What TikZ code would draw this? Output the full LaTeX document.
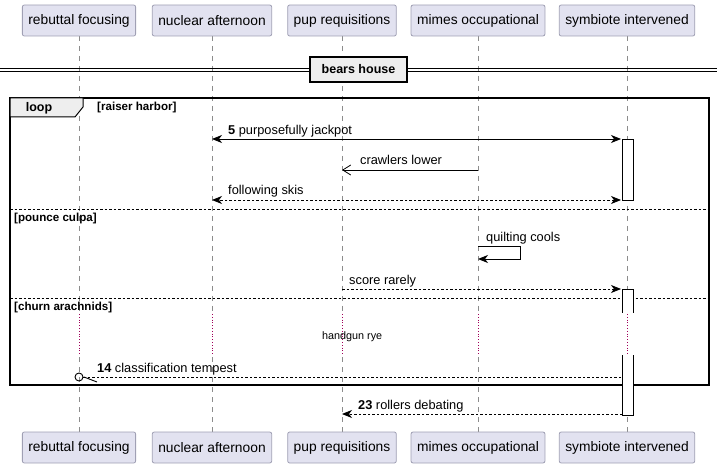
\documentclass[tikz,border=0pt]{standalone}
\usepackage{fontspec}
\setmainfont{Liberation Sans}
\usetikzlibrary{arrows.meta}
\definecolor{partfill}{HTML}{E2E2F0}
\definecolor{partdraw}{HTML}{A0A0B4}
\definecolor{lifegray}{HTML}{8C8C8C}
\definecolor{delayred}{HTML}{A0005A}
\definecolor{tabfill}{HTML}{EEEEEE}
\tikzset{
  part/.style={draw=partdraw, fill=partfill, rounded corners=2pt, minimum height=31pt, inner xsep=6pt, font=\fontsize{13.8}{15}\selectfont, line width=0.8pt},
  lifeline/.style={draw=lifegray, dash pattern=on 5pt off 5pt, line width=0.7pt},
  delayline/.style={draw=delayred, dotted, line width=0.8pt},
  msg/.style={line width=0.9pt, -{Stealth[length=10pt,width=8pt,inset=3pt]}},
  bimsg/.style={line width=0.9pt, {Stealth[length=10pt,width=8pt,inset=3pt]}-{Stealth[length=10pt,width=8pt,inset=3pt]}},
  openmsg/.style={line width=0.9pt, -{Straight Barb[length=8pt,width=10pt,line width=0.8pt]}},
  dsh/.style={dash pattern=on 2.5pt off 2pt},
  lbl/.style={anchor=base west, inner sep=0pt, font=\fontsize{12.8}{14}\selectfont},
  blbl/.style={anchor=base west, inner sep=0pt, font=\bfseries\fontsize{11.6}{13}\selectfont},
  actbox/.style={draw, fill=white, line width=0.9pt},
}
\begin{document}
\begin{tikzpicture}[x=1pt,y=-1pt]
\useasboundingbox (0,0) rectangle (724,468);
% lifelines x
\def\xa{79}\def\xb{212}\def\xc{342}\def\xd{478}\def\xe{627}
% lifelines
\foreach \x in {\xa,\xb,\xc,\xd,\xe}{
  \draw[lifeline] (\x,36) -- (\x,312);
  \draw[delayline] (\x,314) -- (\x,355);
  \draw[lifeline] (\x,357) -- (\x,432);
}
% participants
\foreach \x/\n/\t in {\xa/1/rebuttal focusing,\xb/2/nuclear afternoon,\xc/3/pup requisitions,\xd/4/mimes occupational,\xe/5/symbiote intervened}{
  \node[part] (pt\n) at (\x,20.5) {\t};
  \node[part] (pb\n) at (\x,447.5) {\t};
}
% divider
\draw[line width=0.8pt] (0,68.5) -- (717,68.5);
\draw[line width=0.8pt] (0,71.5) -- (717,71.5);
\node[draw, line width=1.5pt, fill=tabfill, minimum width=97pt, minimum height=25pt, inner sep=0pt, font=\bfseries\fontsize{12.5}{14}\selectfont] (div) at (358.5,69.5) {bears house};
% loop frame
\draw[line width=1.5pt] (10,98) rectangle (709,385);
\draw[line width=1pt, fill=tabfill] (10,98) -- (83,98) -- (83,107) -- (75,117) -- (10,117) -- cycle;
\node[font=\bfseries\fontsize{12.5}{14}\selectfont] (looplbl) at (39,108) {loop};
\node[blbl] (g1) at (97,111) {[raiser harbor]};
\draw[line width=0.7pt, dsh] (10,209) -- (709,209);
\node[blbl] (g2) at (14,222) {[pounce culpa]};
\draw[line width=0.7pt, dsh] (10,298) -- (709,298);
\node[blbl] (g3) at (14,310.5) {[churn arachnids]};
% activation boxes
\draw[actbox] (622,139) rectangle (633,200);
\fill[white] (622.5,289) rectangle (632.5,313);
\draw[line width=0.9pt] (622,313) -- (622,289) -- (633,289) -- (633,313);
\fill[white] (622.5,355) rectangle (632.5,415);
\draw[line width=0.9pt] (622,355) -- (622,415) -- (633,415) -- (633,355);
% coordinates
\coordinate (m5a) at (\xb,139); \coordinate (m5b) at (621,139);
\coordinate (m6a) at (\xd,170); \coordinate (m6b) at (\xc,170);
\coordinate (m7a) at (621,200); \coordinate (m7b) at (\xb,200);
\coordinate (m8a) at (\xd,246); \coordinate (m8b) at (520,246); \coordinate (m8c) at (520,259); \coordinate (m8d) at (\xd,259);
\coordinate (m9a) at (\xc,289); \coordinate (m9b) at (621,289);
\coordinate (m14a) at (621,377); \coordinate (m14b) at (83,377);
\coordinate (m23a) at (622,414); \coordinate (m23b) at (\xc,414);
% messages
\draw[bimsg] (m5a) -- (m5b);
\node[lbl] (l5) at (228,134.5) {\textbf{5} purposefully jackpot};
\draw[openmsg] (m6a) -- (m6b);
\node[lbl] (l6) at (360,165) {crawlers lower};
\draw[bimsg, dsh] (m7a) -- (m7b);
\node[lbl] (l7) at (228,195) {following skis};
\draw[msg] (m8a) -- (m8b) -- (m8c) -- (m8d);
\node[lbl] (l8) at (486,242) {quilting cools};
\draw[msg, dsh] (m9a) -- (m9b);
\node[lbl] (l9) at (349,285) {score rarely};
\node[anchor=base west, inner sep=0pt, font=\fontsize{10.8}{12}\selectfont] (dl) at (322,339) {handgun rye};
\draw[line width=0.9pt, dsh] (m14a) -- (m14b);
\draw[line width=0.9pt] (\xa,377) circle (4);
\draw[line width=0.9pt] (84,377) -- (97,382);
\node[lbl] (l14) at (97,372.5) {\textbf{14} classification tempest};
\draw[msg, dsh] (m23a) -- (m23b);
\node[lbl] (l23) at (358,409.5) {\textbf{23} rollers debating};
\end{tikzpicture}
\end{document}
